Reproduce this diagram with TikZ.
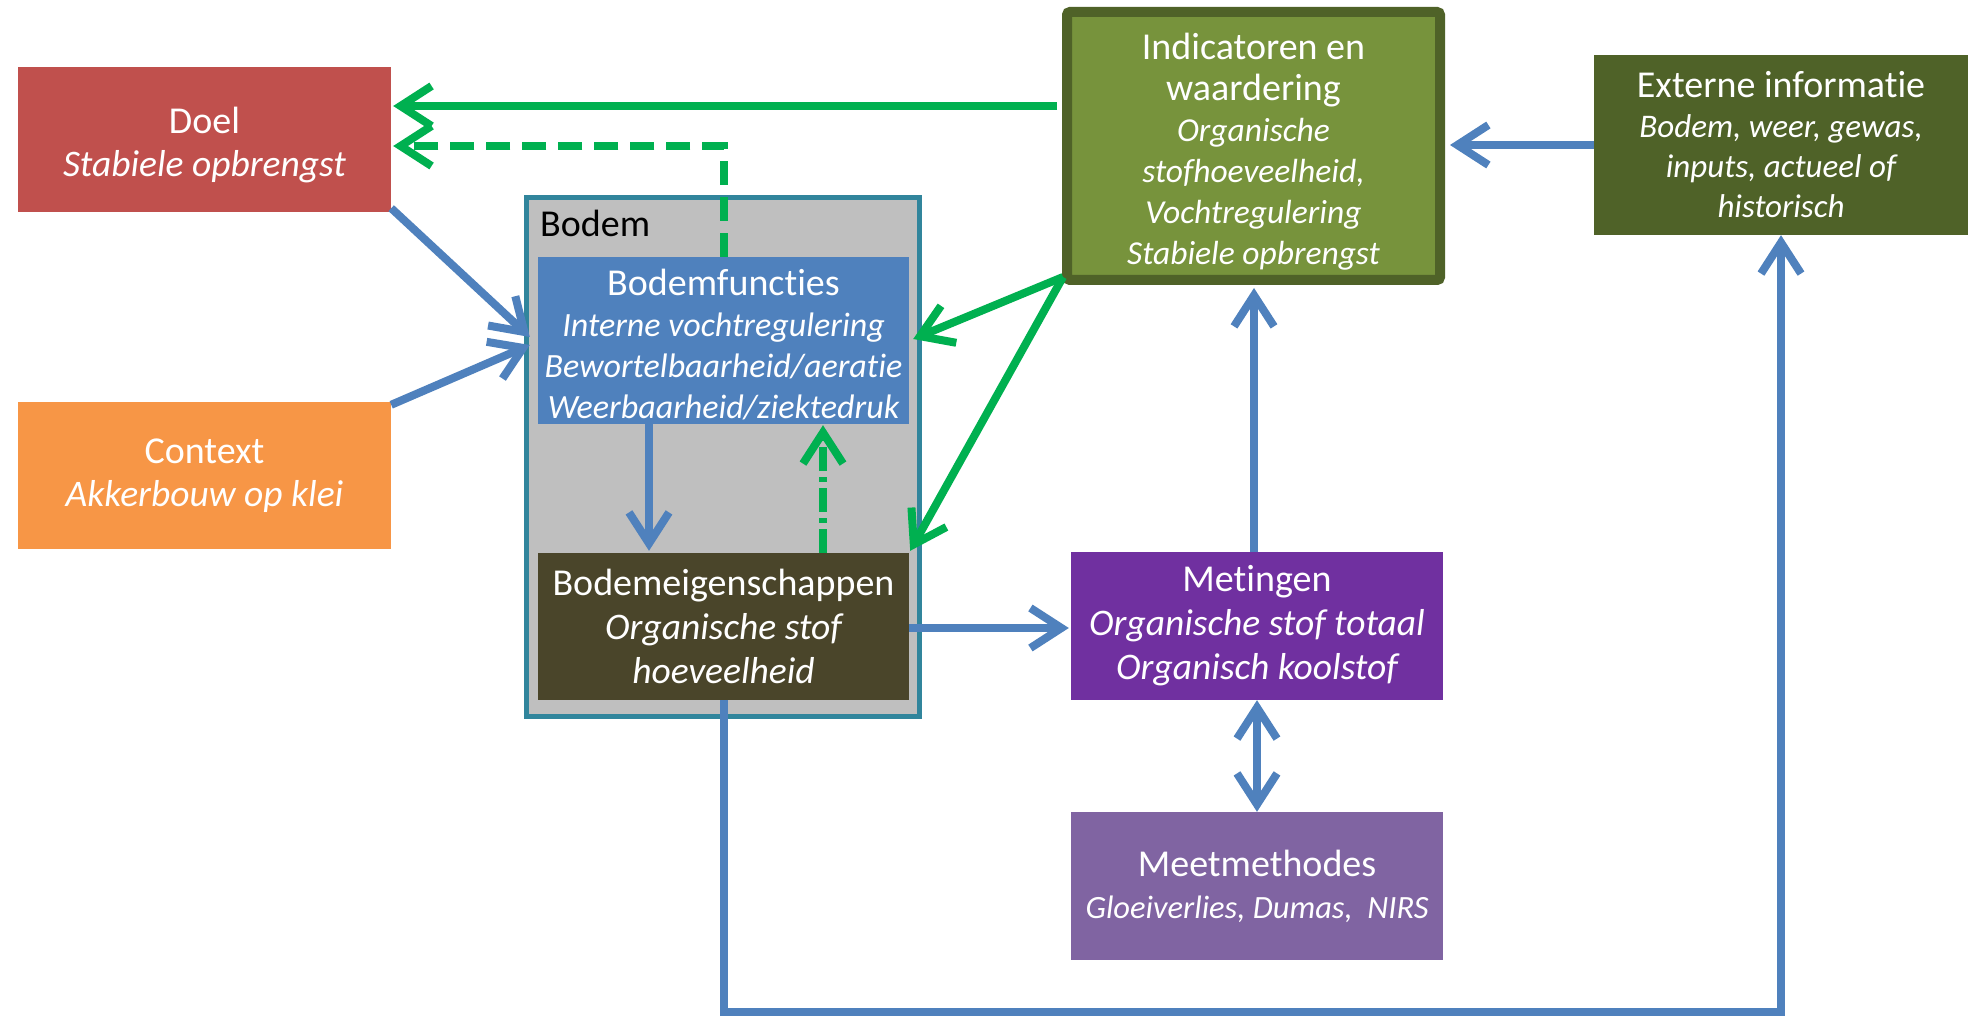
\documentclass[tikz,border=0pt]{standalone}
\usepackage{fontspec}
\setmainfont{Carlito}[Ligatures={NoCommon,NoContextual}]
\usetikzlibrary{arrows.meta,calc}
\definecolor{cDoel}{HTML}{C0504D}
\definecolor{cContext}{HTML}{F79646}
\definecolor{cGray}{HTML}{BFBFBF}
\definecolor{cTeal}{HTML}{31859C}
\definecolor{cFunc}{HTML}{4F81BD}
\definecolor{cEig}{HTML}{4A452A}
\definecolor{cInd}{HTML}{77933C}
\definecolor{cIndB}{HTML}{4F6228}
\definecolor{cExt}{HTML}{4F6228}
\definecolor{cMet}{HTML}{7030A0}
\definecolor{cMeet}{HTML}{8064A2}
\definecolor{cBlue}{HTML}{4F81BD}
\definecolor{cGreen}{HTML}{00B050}
\newcommand{\itsz}[2]{{\fontsize{#1}{#1}\selectfont\itshape #2}}
\newcommand{\topstrut}[1]{\rule{0pt}{#1pt}}
\begin{document}
\begin{tikzpicture}[x=1pt,y=-1pt,
  box/.style={rectangle, inner sep=0pt, text=white, align=center,
    font=\fontsize{38}{43}\selectfont},
  tipb/.tip={Straight Barb[length=31pt,width=40pt]},
  barrow/.style={draw=cBlue, line width=8pt, -tipb},
  garrow/.style={draw=cGreen, line width=8pt, -tipb},
  gdash/.style={garrow, dash pattern=on 24pt off 12pt},
  gdashdot/.style={garrow, dash pattern=on 24pt off 6pt on 5pt off 6pt}
]
\useasboundingbox (0,0) rectangle (1970,1016);
\fill[white] (0,0) rectangle (1970,1016);

% boxes
\node[box, fill=cDoel, minimum width=373pt, minimum height=145pt] (doel) at (204.5,139.5)
  {\topstrut{37}Doel\\\itsz{37.5}{Stabiele opbrengst}};
\node[box, fill=cContext, minimum width=373pt, minimum height=147pt] (context) at (204.5,475.5)
  {Context\\\itsz{37.5}{Akkerbouw op klei}};
\node[draw=cTeal, line width=5pt, fill=cGray, minimum width=393pt, minimum height=519pt,
  inner sep=0pt] (bodem) at (723,457) {};
\node[anchor=base west, inner sep=0pt, font=\fontsize{38}{43}\selectfont] (blabel) at (540,237) {Bodem};
\node[box, fill=cFunc, minimum width=371pt, minimum height=167pt,
  font=\fontsize{38}{41}\selectfont] (bfunc) at (723.5,340.5)
  {\topstrut{34}Bodemfuncties\\\itsz{34}{Interne vochtregulering}\\\itsz{34}{Bewortelbaarheid/aeratie}\\\itsz{34}{Weerbaarheid/ziektedruk}};
\node[box, fill=cEig, minimum width=371pt, minimum height=147pt,
  font=\fontsize{38}{44}\selectfont] (beig) at (723.5,626.5)
  {Bodemeigenschappen\\\itsz{37.5}{Organische stof}\\\itsz{37.5}{hoeveelheid}};
\node[box, fill=cInd, draw=cIndB, line width=10pt, rounded corners=3pt,
  minimum width=373pt, minimum height=268pt,
  font=\fontsize{38}{41}\selectfont] (indic) at (1253.5,146)
  {\topstrut{37}Indicatoren en\\waardering\\\itsz{33.5}{Organische}\\\itsz{33.5}{stofhoeveelheid,}\\\itsz{33.5}{Vochtregulering}\\\itsz{33.5}{Stabiele opbrengst}};
\node[box, fill=cExt, minimum width=374pt, minimum height=180pt,
  font=\fontsize{38}{40}\selectfont] (extern) at (1781,145)
  {Externe informatie\\\itsz{33}{Bodem, weer, gewas,}\\\itsz{33}{inputs, actueel of}\\\itsz{33}{historisch}};
\node[box, fill=cMet, minimum width=372pt, minimum height=148pt,
  font=\fontsize{38}{44}\selectfont] (meting) at (1257,626)
  {Metingen\\\itsz{37.5}{Organische stof totaal}\\\itsz{37.5}{Organisch koolstof}};
\node[box, fill=cMeet, minimum width=372pt, minimum height=148pt,
  font=\fontsize{38}{42}\selectfont] (meet) at (1257,886)
  {Meetmethodes\\\itsz{32.5}{Gloeiverlies, Dumas,\ \ NIRS}};

% green connectors
\draw[garrow] ($(indic.west)+(-5,-40)$) -- ($(doel.east)+(2,-33.5)$);
\draw[gdash] (bfunc.north) |- ($(doel.east)+(2,6.5)$);
\coordinate (gcorner) at ($(indic.south west)+(1,-8)$);
\draw[garrow] (gcorner) -- ($(bfunc.east)+(4,-1.5)$);
\draw[garrow] (gcorner) -- ($(beig.north east)+(1,-2)$);
\draw[gdashdot] ($(beig.north)+(99.5,0)$) -- ($(bfunc.south)+(99.5,1)$);

% blue connectors
\draw[barrow] ($(doel.south east)+(0,-4)$) -- ($(bfunc.west)+(-8,-3.5)$);
\draw[barrow] ($(context.north east)+(0,3)$) -- ($(bfunc.west)+(-8,4.5)$);
\draw[barrow] ($(bfunc.south)+(-74.5,0)$) -- ($(beig.north)+(-74.5,-2)$);
\draw[barrow] ($(beig.east)+(0,1.5)$) -- ($(meting.west)+(-2,2)$);
\draw[barrow] ($(meting.north)+(-3,0)$) -- ($(meting.north |- indic.south)+(-3,3)$);
\draw[barrow, tipb-tipb] (meting.south) -- (meet.north);
\draw[barrow] (extern.west) -- ($(extern.west -| indic.east)+(5,0)$);
\draw[barrow] (beig.south) -- ++(0,312) -| (extern.south);
\end{tikzpicture}
\end{document}
